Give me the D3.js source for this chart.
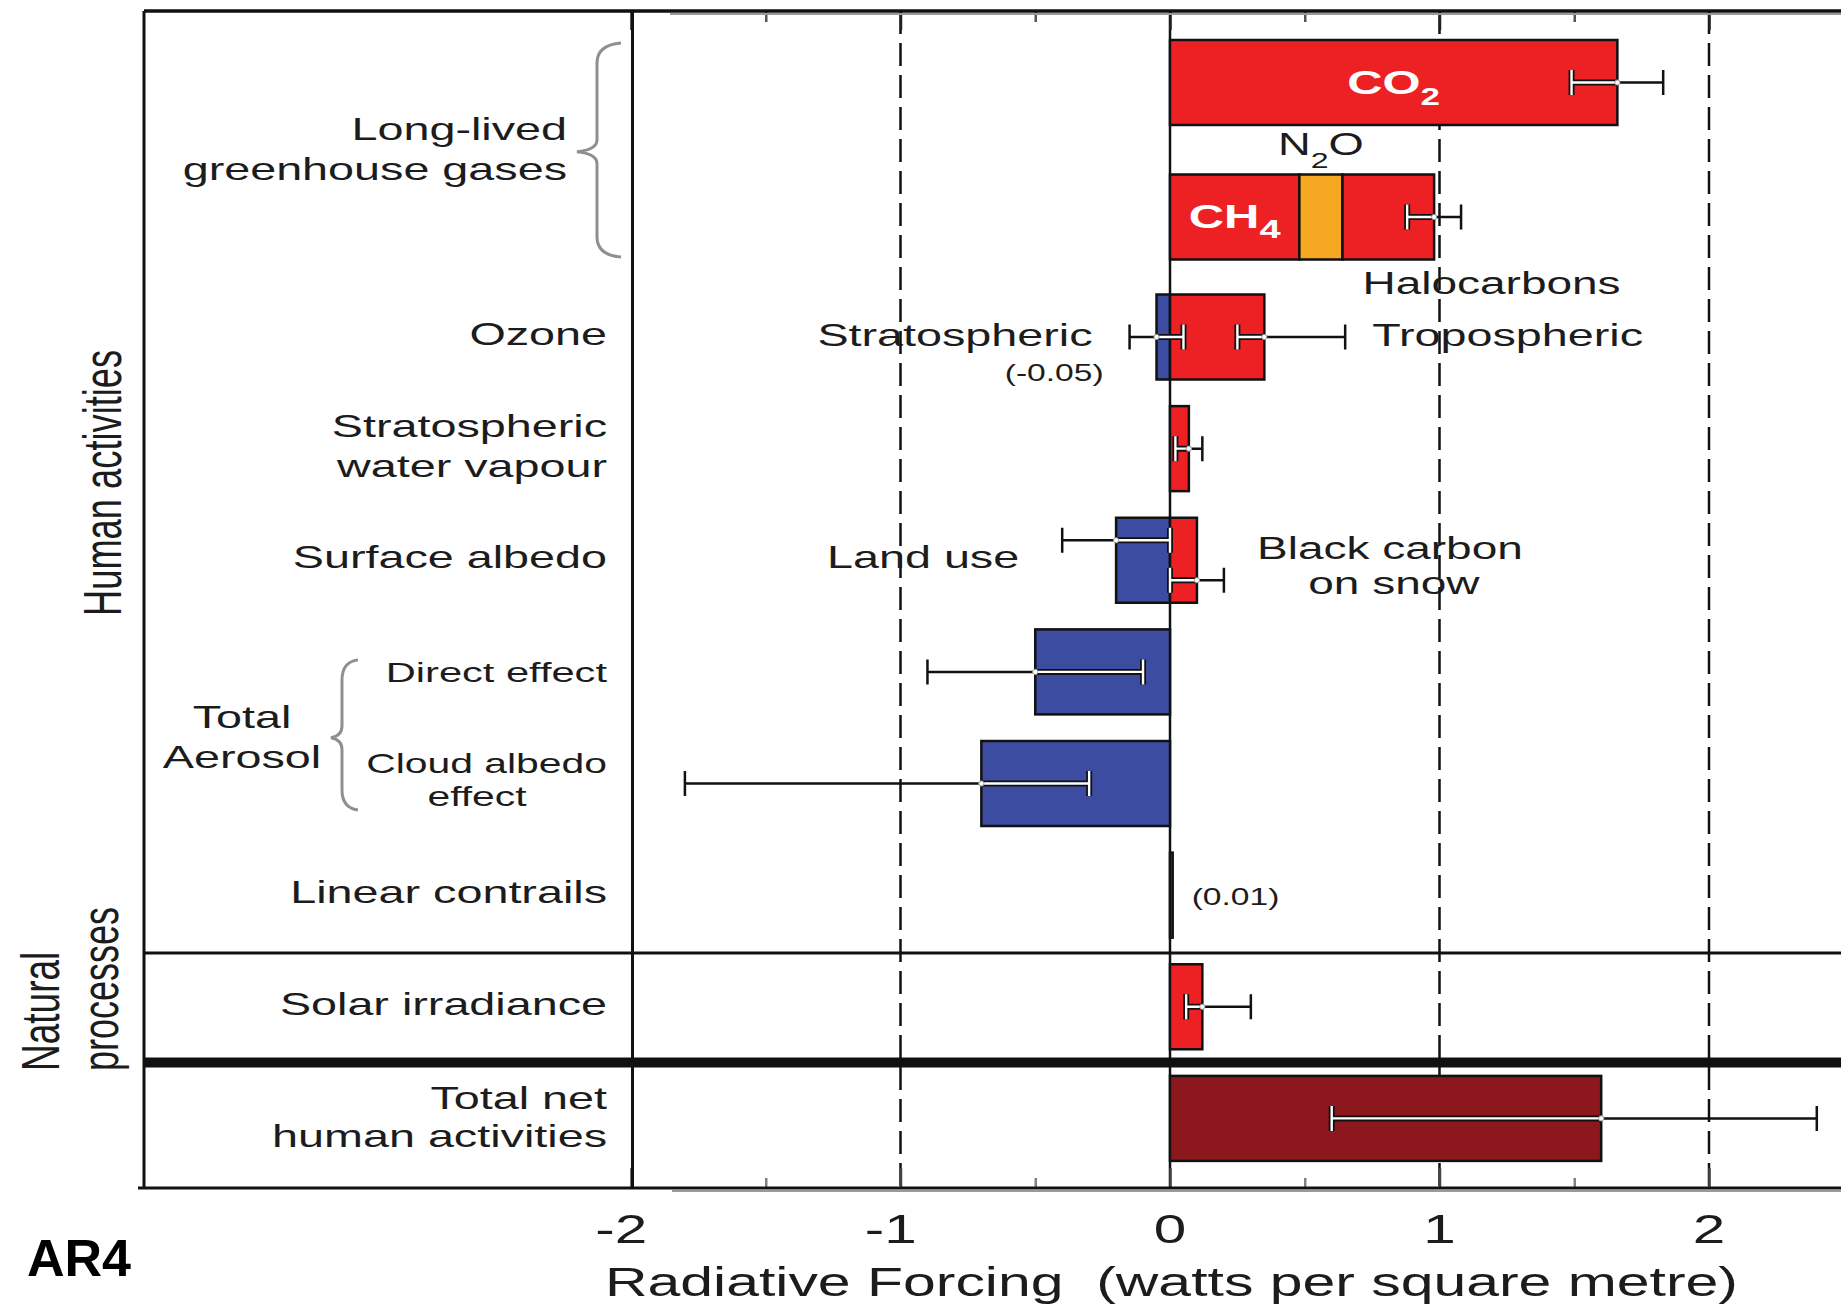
<!DOCTYPE html>
<html>
<head>
<meta charset="utf-8">
<script src="https://cdn.jsdelivr.net/npm/d3@7"></script>
<style>
  html, body { margin: 0; padding: 0; background: #ffffff; }
  svg { display: block; }
  text { font-family: "Liberation Sans", Arial, Helvetica, sans-serif; white-space: pre; }
</style>
</head>
<body>
<svg id="chart" width="1841" height="1305"></svg>
<script>
// ---------------- DATA ----------------
const rowNames = ["CO2", "CH4, N2O, Halocarbons", "Ozone", "Stratospheric water vapour",
  "Surface albedo", "Direct effect", "Cloud albedo effect", "Linear contrails",
  "Solar irradiance", "Total net human activities"];

const componentNames = ["CO2", "CH4", "N2O", "Halocarbons", "Stratospheric ozone", "Tropospheric ozone",
  "Stratospheric water vapour", "Land use", "Black carbon on snow", "Direct effect",
  "Cloud albedo effect", "Linear contrails", "Solar irradiance", "Total net human activities"];
const componentRows   = [0, 1, 1, 1, 2, 2, 3, 4, 4, 5, 6, 7, 8, 9];
const componentValues = [1.66, 0.48, 0.16, 0.34, -0.05, 0.35, 0.07, -0.20, 0.10, -0.50, -0.70, 0.01, 0.12, 1.60];

const errorNames   = ["CO2", "Long-lived greenhouse gases", "Stratospheric ozone", "Tropospheric ozone",
  "Stratospheric water vapour", "Land use", "Black carbon on snow", "Direct effect",
  "Cloud albedo effect", "Solar irradiance", "Total net human activities"];
const errorRows    = [0, 1, 2, 2, 3, 4, 4, 5, 6, 8, 9];
const errorCentral = [1.66, 0.98, -0.05, 0.35, 0.07, -0.20, 0.10, -0.50, -0.70, 0.12, 1.60];
const errorLow     = [1.49, 0.88, -0.15, 0.25, 0.02, -0.40, 0.00, -0.90, -1.80, 0.06, 0.60];
const errorHigh    = [1.83, 1.08, 0.05, 0.65, 0.12, 0.00, 0.20, -0.10, -0.30, 0.30, 2.40];

const majorTicks = [-2, -1, 0, 1, 2];
const minorTicks = [-1.5, -0.5, 0.5, 1.5];
const tickLabels = ["-2", "-1", "0", "1", "2"];
const dashedAt   = [-1, 1, 2];

// ---------------- LAYOUT ----------------
const W = 1841, H = 1305;
const LEFT = 144, TOP = 11, BOTTOM = 1188, RIGHT = W;
const SX = 1.46;            // horizontal stretch of the original artwork's lettering
const BAR_H = 85, CAP = 12.5;
const INK = "#111111", TXT = "#1c1c1c";
const RED = "#ED2024", BLUE = "#3C4CA0", ORANGE = "#F7A823", DARKRED = "#8C171C";

const x = d3.scaleLinear().domain([-2, 2.5]).range([631, 631 + 4.5 * 269.5]);
const y = d3.scaleLinear().domain([0, 1, 2, 9]).range([82.5, 217, 337, 1118.4]);

const svg = d3.select("#chart");
svg.append("rect").attr("width", W).attr("height", H).attr("fill", "#fff");

// text helper: lines = [[string, dy, dx?, anchor?]], each line is a tspan of one text element
function txt(g, lines, px, py, o = {}) {
  if (typeof lines === "string") lines = [[lines, 0]];
  const sx = o.sx ?? SX;
  const t = g.append("text")
    .attr("transform", `translate(${px},${py}) scale(${sx},1)` + (o.rot ? ` rotate(${o.rot})` : ""))
    .attr("text-anchor", o.anchor || "end")
    .attr("xml:space", "preserve")
    .style("font-size", (o.size || 32) + "px")
    .style("font-weight", o.weight || "normal")
    .attr("fill", o.fill || TXT);
  if (lines.length === 1 && !lines[0][1] && !lines[0][2]) {
    t.text(lines[0][0]);
  } else {
    lines.forEach(([s, dy, dx, anchor]) => {
      t.append("tspan").attr("x", (dx || 0) / sx).attr("y", dy).attr("text-anchor", anchor || null).text(s);
    });
  }
  if (o.width) t.attr("textLength", o.width / sx).attr("lengthAdjust", "spacingAndGlyphs");
  return t;
}

// ---------------- GRID ----------------
svg.append("g").selectAll("line").data(dashedAt).join("line")
  .attr("x1", d => x(d)).attr("x2", d => x(d))
  .attr("y1", TOP).attr("y2", BOTTOM)
  .attr("stroke", INK).attr("stroke-width", 2.5).attr("stroke-dasharray", "23,9");

svg.append("line").attr("x1", x(0)).attr("x2", x(0)).attr("y1", TOP).attr("y2", BOTTOM)
  .attr("stroke", INK).attr("stroke-width", 2.5);

// ---------------- BARS ----------------
const comps = componentNames.map((name, i) => ({ name, row: componentRows[i], value: componentValues[i] }));
const posAcc = {}, negAcc = {};
comps.forEach(c => {
  if (c.value >= 0) { const s = posAcc[c.row] || 0; c.x0 = s; c.x1 = s + c.value; posAcc[c.row] = c.x1; }
  else { const s = negAcc[c.row] || 0; c.x1 = s; c.x0 = s + c.value; negAcc[c.row] = c.x0; }
});
const fillFor = c => c.row === rowNames.length - 1 ? DARKRED : (c.name === "N2O" ? ORANGE : (c.value < 0 ? BLUE : RED));

svg.append("g").selectAll("rect").data(comps).join("rect")
  .attr("x", d => x(d.x0)).attr("width", d => x(d.x1) - x(d.x0))
  .attr("y", d => y(d.row) - BAR_H / 2).attr("height", BAR_H)
  .attr("fill", fillFor).attr("stroke", INK).attr("stroke-width", 2.5);

// clip regions = bar extent per row
const rowExtent = d3.rollup(comps, v => [d3.min(v, d => d.x0), d3.max(v, d => d.x1)], d => d.row);
const defs = svg.append("defs");
rowExtent.forEach((ext, row) => {
  defs.append("clipPath").attr("id", "clip" + row).append("rect")
    .attr("x", x(ext[0])).attr("width", x(ext[1]) - x(ext[0]))
    .attr("y", y(row) - BAR_H / 2).attr("height", BAR_H);
});

// ---------------- ERROR BARS ----------------
const errs = errorNames.map((name, i) => ({ name, row: errorRows[i], c: errorCentral[i], lo: errorLow[i], hi: errorHigh[i] }));
d3.groups(errs, d => d.row).forEach(([row, list]) => {
  list.sort((a, b) => a.lo - b.lo);
  let overlap = false;
  for (let i = 1; i < list.length; i++) if (list[i].lo <= list[i - 1].hi) overlap = true;
  list.forEach((e, i) => { e.dy = overlap ? (i === 0 ? -1 : 1) * BAR_H * 0.235 : 0; });
});
const errPath = e => {
  const yy = y(e.row) + e.dy, a = x(e.lo), b = x(e.hi);
  return `M${a},${yy - CAP}V${yy + CAP}M${a},${yy}H${b}M${b},${yy - CAP}V${yy + CAP}`;
};
const eg = svg.append("g").attr("fill", "none");
eg.selectAll("path.out").data(errs).join("path").attr("class", "out")
  .attr("d", errPath).attr("stroke", INK).attr("stroke-width", 2.5);
const ein = eg.selectAll("g.in").data(errs).join("g").attr("class", "in")
  .attr("clip-path", d => `url(#clip${d.row})`);
ein.append("path").attr("d", errPath).attr("stroke", INK).attr("stroke-width", 6);
ein.append("path").attr("d", errPath).attr("stroke", "#fff").attr("stroke-width", 2.4);
eg.selectAll("circle").data(errs).join("circle")
  .attr("cx", d => x(d.c)).attr("cy", d => y(d.row) + d.dy).attr("r", 2.6)
  .attr("fill", "#fff").attr("stroke", "#9a9a9a").attr("stroke-width", 1);

// ---------------- AXES ----------------
function ticks(axisFn, yPos, values, size, color) {
  const g = svg.append("g").attr("transform", `translate(0,${yPos})`)
    .call(axisFn(x).tickValues(values).tickSize(size).tickFormat(""));
  g.select(".domain").remove();
  g.selectAll(".tick line").attr("stroke", color).attr("stroke-width", 2.5);
}
ticks(d3.axisBottom, TOP, majorTicks, 19, "#222");
ticks(d3.axisBottom, TOP, minorTicks, 11, "#555");
ticks(d3.axisTop, BOTTOM, majorTicks, 20, "#444");
ticks(d3.axisTop, BOTTOM, minorTicks, 10, "#808080");

const tl = svg.append("g");
majorTicks.forEach((v, i) => {
  txt(tl, tickLabels[i], x(v), BOTTOM + 55, { anchor: "middle", size: 40 })
    .attr("dx", v < 0 ? "-0.1665em" : 0);
});
txt(svg, "Radiative Forcing  (watts per square metre)", 605, 1296, { anchor: "start", size: 40, width: 1133 });

// ---------------- FRAME ----------------
const frame = svg.append("g").attr("stroke", INK).attr("stroke-width", 3);
frame.append("line").attr("x1", 670).attr("x2", RIGHT).attr("y1", TOP + 3).attr("y2", TOP + 3).attr("stroke", "#9a9a9a").attr("stroke-width", 2);
frame.append("line").attr("x1", 672).attr("x2", RIGHT).attr("y1", BOTTOM + 3).attr("y2", BOTTOM + 3).attr("stroke", "#9a9a9a").attr("stroke-width", 2);
frame.append("line").attr("x1", LEFT).attr("x2", RIGHT).attr("y1", TOP).attr("y2", TOP).attr("stroke-width", 3.5);
frame.append("line").attr("x1", 138).attr("x2", RIGHT).attr("y1", BOTTOM).attr("y2", BOTTOM);
frame.append("line").attr("x1", LEFT).attr("x2", LEFT).attr("y1", TOP).attr("y2", BOTTOM);
frame.append("line").attr("x1", x(-2) + 1.5).attr("x2", x(-2) + 1.5).attr("y1", TOP).attr("y2", BOTTOM);
frame.append("line").attr("x1", LEFT).attr("x2", RIGHT).attr("y1", y(7.5) + 2).attr("y2", y(7.5) + 2);
frame.append("line").attr("x1", LEFT).attr("x2", RIGHT).attr("y1", y(8.5)).attr("y2", y(8.5)).attr("stroke-width", 10);

// ---------------- ROW LABELS ----------------
const LBL = x(-2) - 24;
const lg = svg.append("g");
txt(lg, "Ozone", LBL, y(2) + 8);
txt(lg, [["Stratospheric", 0], ["water vapour", 40]], LBL, y(3) - 12);
txt(lg, "Surface albedo", LBL, y(4) + 8);
txt(lg, "Direct effect", LBL, y(5) + 10.5, { size: 28.5 });
txt(lg, [["Cloud albedo", 0], ["effect", 33, -130, "middle"]], LBL, y(6) - 10.5, { size: 28 });
txt(lg, "Linear contrails", LBL, y(7) + 8);
txt(lg, "Solar irradiance", LBL, y(8) + 8);
txt(lg, [["Total net", 0], ["human activities", 38]], LBL, y(9) - 9.5);

// group labels + braces
txt(lg, [["Long-lived", 0], ["greenhouse gases", 40]], x(-2) - 64, y(0.5) - 10);
txt(lg, [["Total", 0], ["Aerosol", 40]], 242, y(5.5) + 0.5, { anchor: "middle" });

function brace(xEnd, xV, xTip, yT, yM, yB) {
  const r = 20;
  return `M${xEnd},${yT} Q${xV},${yT + 2} ${xV},${yT + r} L${xV},${yM - 12} Q${xV},${yM - 2} ${xTip},${yM}` +
         ` Q${xV},${yM + 2} ${xV},${yM + 12} L${xV},${yB - r} Q${xV},${yB - 2} ${xEnd},${yB}`;
}
svg.append("path").attr("d", brace(x(-2) - 10, x(-2) - 34, x(-2) - 54, y(0) - 39.5, y(0.5) + 2, y(1) + 40))
  .attr("fill", "none").attr("stroke", "#8f8f8f").attr("stroke-width", 3);
svg.append("path").attr("d", brace(358, 342, 331, y(5) - 12, y(5.5) + 10, y(6) + 26.5))
  .attr("fill", "none").attr("stroke", "#8f8f8f").attr("stroke-width", 3);

// rotated section labels
txt(lg, "Human activities", 120.5, 616, { anchor: "start", size: 36.3, rot: -90 });
txt(lg, "Natural", 58.5, 1071, { anchor: "start", size: 37, rot: -90 });
txt(lg, "processes", 117.5, 1071, { anchor: "start", size: 36, rot: -90 });

// AR4
txt(svg, "AR4", 27, 1276, { anchor: "start", size: 52, weight: "bold", sx: 1, fill: "#000" });

// ---------------- BAR ANNOTATIONS ----------------
const comp = n => comps.find(c => c.name === n);
const err = n => errs.find(e => e.name === n);
const ag = svg.append("g");

function chem(main, sub, rest, px, py, o) {
  const t = txt(ag, "", px, py, o);
  t.append("tspan").text(main);
  t.append("tspan").attr("dy", o.subDy).style("font-size", o.subSize + "px").text(sub);
  if (rest) t.append("tspan").attr("dy", -o.subDy).text(rest);
  return t;
}
const co2 = comp("CO2");
chem("CO", "2", null, x((co2.x0 + co2.x1) / 2), y(0) + 11, { anchor: "middle", size: 33.5, weight: "bold", fill: "#fff", subSize: 24, subDy: 11 });
const ch4 = comp("CH4");
chem("CH", "4", null, x((ch4.x0 + ch4.x1) / 2), y(1) + 11, { anchor: "middle", size: 33.5, weight: "bold", fill: "#fff", subSize: 26, subDy: 10 });
const n2o = comp("N2O");
chem("N", "2", "O", x((n2o.x0 + n2o.x1) / 2), y(1) - BAR_H / 2 - 19.5, { anchor: "middle", size: 31, subSize: 22, subDy: 13 });
txt(ag, "Halocarbons", x(comp("Halocarbons").x0) + 20, y(1) + BAR_H / 2 + 34, { anchor: "start", size: 31.5 });

txt(ag, "Stratospheric", x(err("Stratospheric ozone").lo) - 37, y(2) + 9, { anchor: "end" });
txt(ag, "(-0.05)", x(err("Stratospheric ozone").lo) - 26, y(2) + 44, { anchor: "end", size: 23 });
txt(ag, "Tropospheric", x(err("Tropospheric ozone").hi) + 27, y(2) + 9, { anchor: "start" });
txt(ag, "Land use", x(err("Land use").lo) - 43, y(4) + 8, { anchor: "end" });
txt(ag, "Black carbon", x(err("Black carbon on snow").hi) + 166, y(4) - 1.5, { anchor: "middle", size: 31.5 });
txt(ag, "on snow", x(err("Black carbon on snow").hi) + 170, y(4) + 34, { anchor: "middle", size: 31.5 });
txt(ag, "(0.01)", x(comp("Linear contrails").x1) + 19, y(7) + 10, { anchor: "start", size: 23 });
</script>
</body>
</html>
